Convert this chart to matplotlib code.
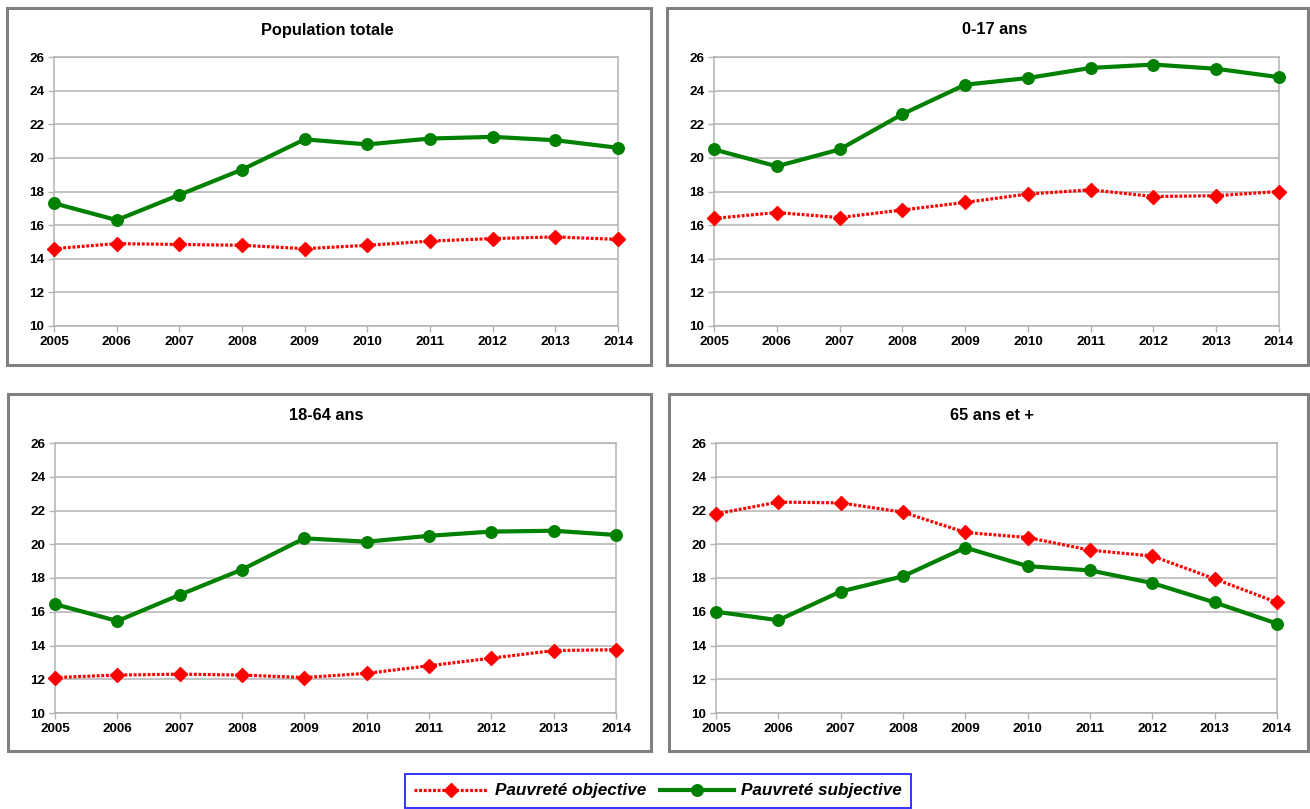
import matplotlib.pyplot as plt
from matplotlib.lines import Line2D
from matplotlib.patches import Rectangle

years = list(range(2005, 2015))

titles = ["Population totale", "0-17 ans", "18-64 ans", "65 ans et +"]

# taux de pauvreté (%) par tranche d'âge
objective = {
    "Population totale": [14.6, 14.9, 14.85, 14.8, 14.6, 14.8, 15.05, 15.2, 15.3, 15.15],
    "0-17 ans": [16.4, 16.75, 16.45, 16.9, 17.35, 17.85, 18.1, 17.7, 17.75, 18.0],
    "18-64 ans": [12.1, 12.25, 12.3, 12.25, 12.1, 12.35, 12.8, 13.25, 13.7, 13.75],
    "65 ans et +": [21.8, 22.5, 22.45, 21.9, 20.7, 20.4, 19.65, 19.3, 17.95, 16.55],
}
subjective = {
    "Population totale": [17.3, 16.3, 17.8, 19.3, 21.1, 20.8, 21.15, 21.25, 21.05, 20.6],
    "0-17 ans": [20.5, 19.5, 20.5, 22.6, 24.35, 24.75, 25.35, 25.55, 25.3, 24.8],
    "18-64 ans": [16.45, 15.45, 17.0, 18.5, 20.35, 20.15, 20.5, 20.75, 20.8, 20.55],
    "65 ans et +": [16.0, 15.5, 17.2, 18.1, 19.8, 18.7, 18.45, 17.7, 16.55, 15.3],
}
yticks = list(range(10, 27, 2))

W, H = 1310, 809
RED = "#ff0000"
GREEN = "#008000"
GRID = "#b3b3b3"
FRAME = "#808080"
DOTS = (0, (0.9, 0.55))

plt.rcParams["font.family"] = ["Liberation Sans", "DejaVu Sans"]

fig = plt.figure(figsize=(W / 100, H / 100), dpi=100)

# frame box, plot area (x0, y0, x1, y1 in pixels from top-left) and title centre
panels = [
    ((7, 8, 651, 365), (54, 57, 618, 326), (327, 30)),
    ((667, 8, 1308, 365), (714, 57, 1279, 326), (995, 30)),
    ((8, 394, 651, 751), (55, 443, 616, 713), (326, 416)),
    ((669, 394, 1308, 751), (716, 443, 1277, 713), (992, 416)),
]


def px_rect(x0, y0, x1, y1):
    return [x0 / W, 1 - y1 / H, (x1 - x0) / W, (y1 - y0) / H]


for title, (frame, area, (tx, ty)) in zip(titles, panels):
    fx0, fy0, fx1, fy1 = frame
    fig.patches.append(Rectangle((fx0 / W, 1 - fy1 / H), (fx1 - fx0) / W, (fy1 - fy0) / H,
                                 transform=fig.transFigure, fill=False,
                                 edgecolor=FRAME, linewidth=2.2, zorder=0))
    ax = fig.add_axes(px_rect(*area))
    ax.plot(years, objective[title], color=RED, lw=2.3, ls=DOTS,
            marker="D", ms=6.8, mec=RED, mfc=RED, zorder=3, clip_on=False)
    ax.plot(years, subjective[title], color=GREEN, lw=3.0,
            marker="o", ms=8.3, mec=GREEN, mfc=GREEN, zorder=4, clip_on=False)
    ax.set_xlim(2005, 2014)
    ax.set_ylim(10, 26)
    ax.set_xticks(years)
    ax.set_yticks(yticks)
    ax.grid(axis="y", color=GRID, lw=1.1)
    ax.set_axisbelow(True)
    for side in ("left", "bottom", "right", "top"):
        ax.spines[side].set_color(GRID)
        ax.spines[side].set_linewidth(1.1)
    ax.tick_params(length=4, width=1, color=GRID, pad=3)
    for lab in ax.get_xticklabels() + ax.get_yticklabels():
        lab.set_fontsize(9.7)
        lab.set_fontweight("bold")
    fig.text(tx / W, 1 - ty / H, title, ha="center", va="center",
             fontsize=11.8, fontweight="bold")

handles = [
    Line2D([], [], color=RED, lw=2.3, ls=DOTS, marker="D", ms=6.8, mec=RED, mfc=RED),
    Line2D([], [], color=GREEN, lw=3.0, marker="o", ms=8.3, mec=GREEN, mfc=GREEN),
]
leg = fig.legend(handles, ["Pauvreté objective", "Pauvreté subjective"],
                 loc="center", bbox_to_anchor=(658 / W, 1 - 791 / H), ncol=2,
                 frameon=True, fancybox=False, handlelength=4.3, handletextpad=0.45,
                 columnspacing=0.8, borderpad=0.55, borderaxespad=0,
                 prop={"size": 12.3, "weight": "bold", "style": "italic"})
leg.get_frame().set_edgecolor("#0000ff")
leg.get_frame().set_linewidth(1.4)

fig.savefig("out.png", dpi=100)
